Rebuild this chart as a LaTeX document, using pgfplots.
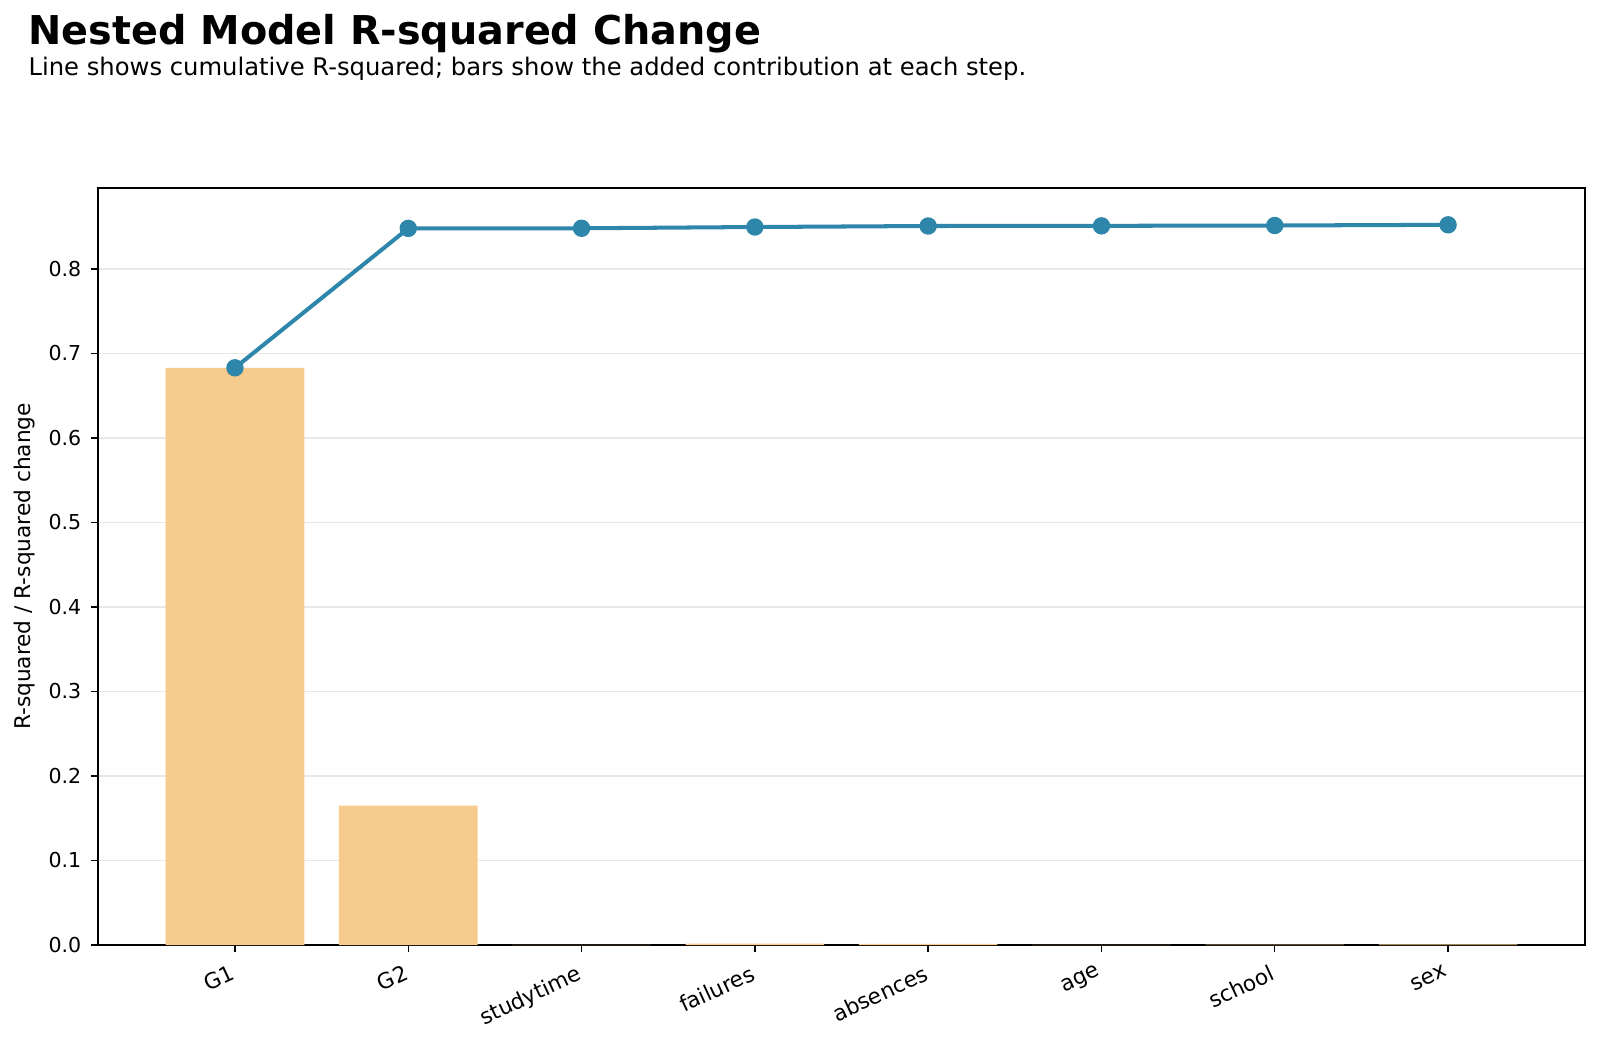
\documentclass[border=0pt]{standalone}
\usepackage{pgfplots}
\pgfplotsset{compat=1.18}
\usepackage{fontspec}
\setmainfont{DejaVu Sans}
\definecolor{barc}{HTML}{F7CB8B}
\definecolor{linec}{HTML}{2E86AB}
\definecolor{gridc}{HTML}{E8E8E8}
\begin{document}
\begin{tikzpicture}
\useasboundingbox (-35.3pt,-35.6pt) rectangle (540.7pt,340.2pt);
\begin{axis}[
  at={(0,0)}, anchor=south west,
  scale only axis, width=535.3pt, height=272.5pt,
  xmin=-0.79, xmax=7.79, ymin=0, ymax=0.8957,
  xtick={0,1,2,3,4,5,6,7},
  xticklabels={G1,G2,studytime,failures,absences,age,school,sex},
  x tick label style={rotate=25, anchor=north east, font=\fontsize{7.8}{9}\selectfont, inner sep=1pt, yshift=-2pt, xshift=-2.5pt},
  ytick={0,0.1,0.2,0.3,0.4,0.5,0.6,0.7,0.8},
  yticklabel style={/pgf/number format/fixed, /pgf/number format/fixed zerofill, /pgf/number format/precision=1, font=\fontsize{7.4}{8}\selectfont},
  /pgf/number format/assume math mode=true,
  ymajorgrids, major grid style={gridc, line width=0.5pt},
  tick align=outside, major tick length=2.5pt,
  tick style={black, line width=0.5pt},
  xtick pos=bottom, ytick pos=left,
  axis line style={line width=0.6pt},
  ylabel={R-squared / R-squared change},
  ylabel style={font=\fontsize{7.8}{9}\selectfont},
  ylabel shift=-2pt,
]
\addplot[ybar, bar width=0.8, fill=barc, draw=none] coordinates {
 (0,0.683) (1,0.165) (2,0.0001) (3,0.0015) (4,0.0012) (5,0.0002) (6,0.0004) (7,0.0008)};
\addplot[linec, line width=1.45pt, mark=*, mark size=2.4pt, mark options={fill=linec, draw=linec}] coordinates {
 (0,0.683) (1,0.848) (2,0.8481) (3,0.8496) (4,0.8508) (5,0.851) (6,0.8514) (7,0.8522)};
\end{axis}
\node[anchor=base west, inner sep=0pt, font=\fontsize{14.3}{16}\selectfont\bfseries] at (-25.2pt,324pt) {Nested Model R-squared Change};
\node[anchor=base west, inner sep=0pt, font=\fontsize{8.73}{10}\selectfont] at (-25.2pt,313pt) {Line shows cumulative R-squared; bars show the added contribution at each step.};
\end{tikzpicture}
\end{document}
